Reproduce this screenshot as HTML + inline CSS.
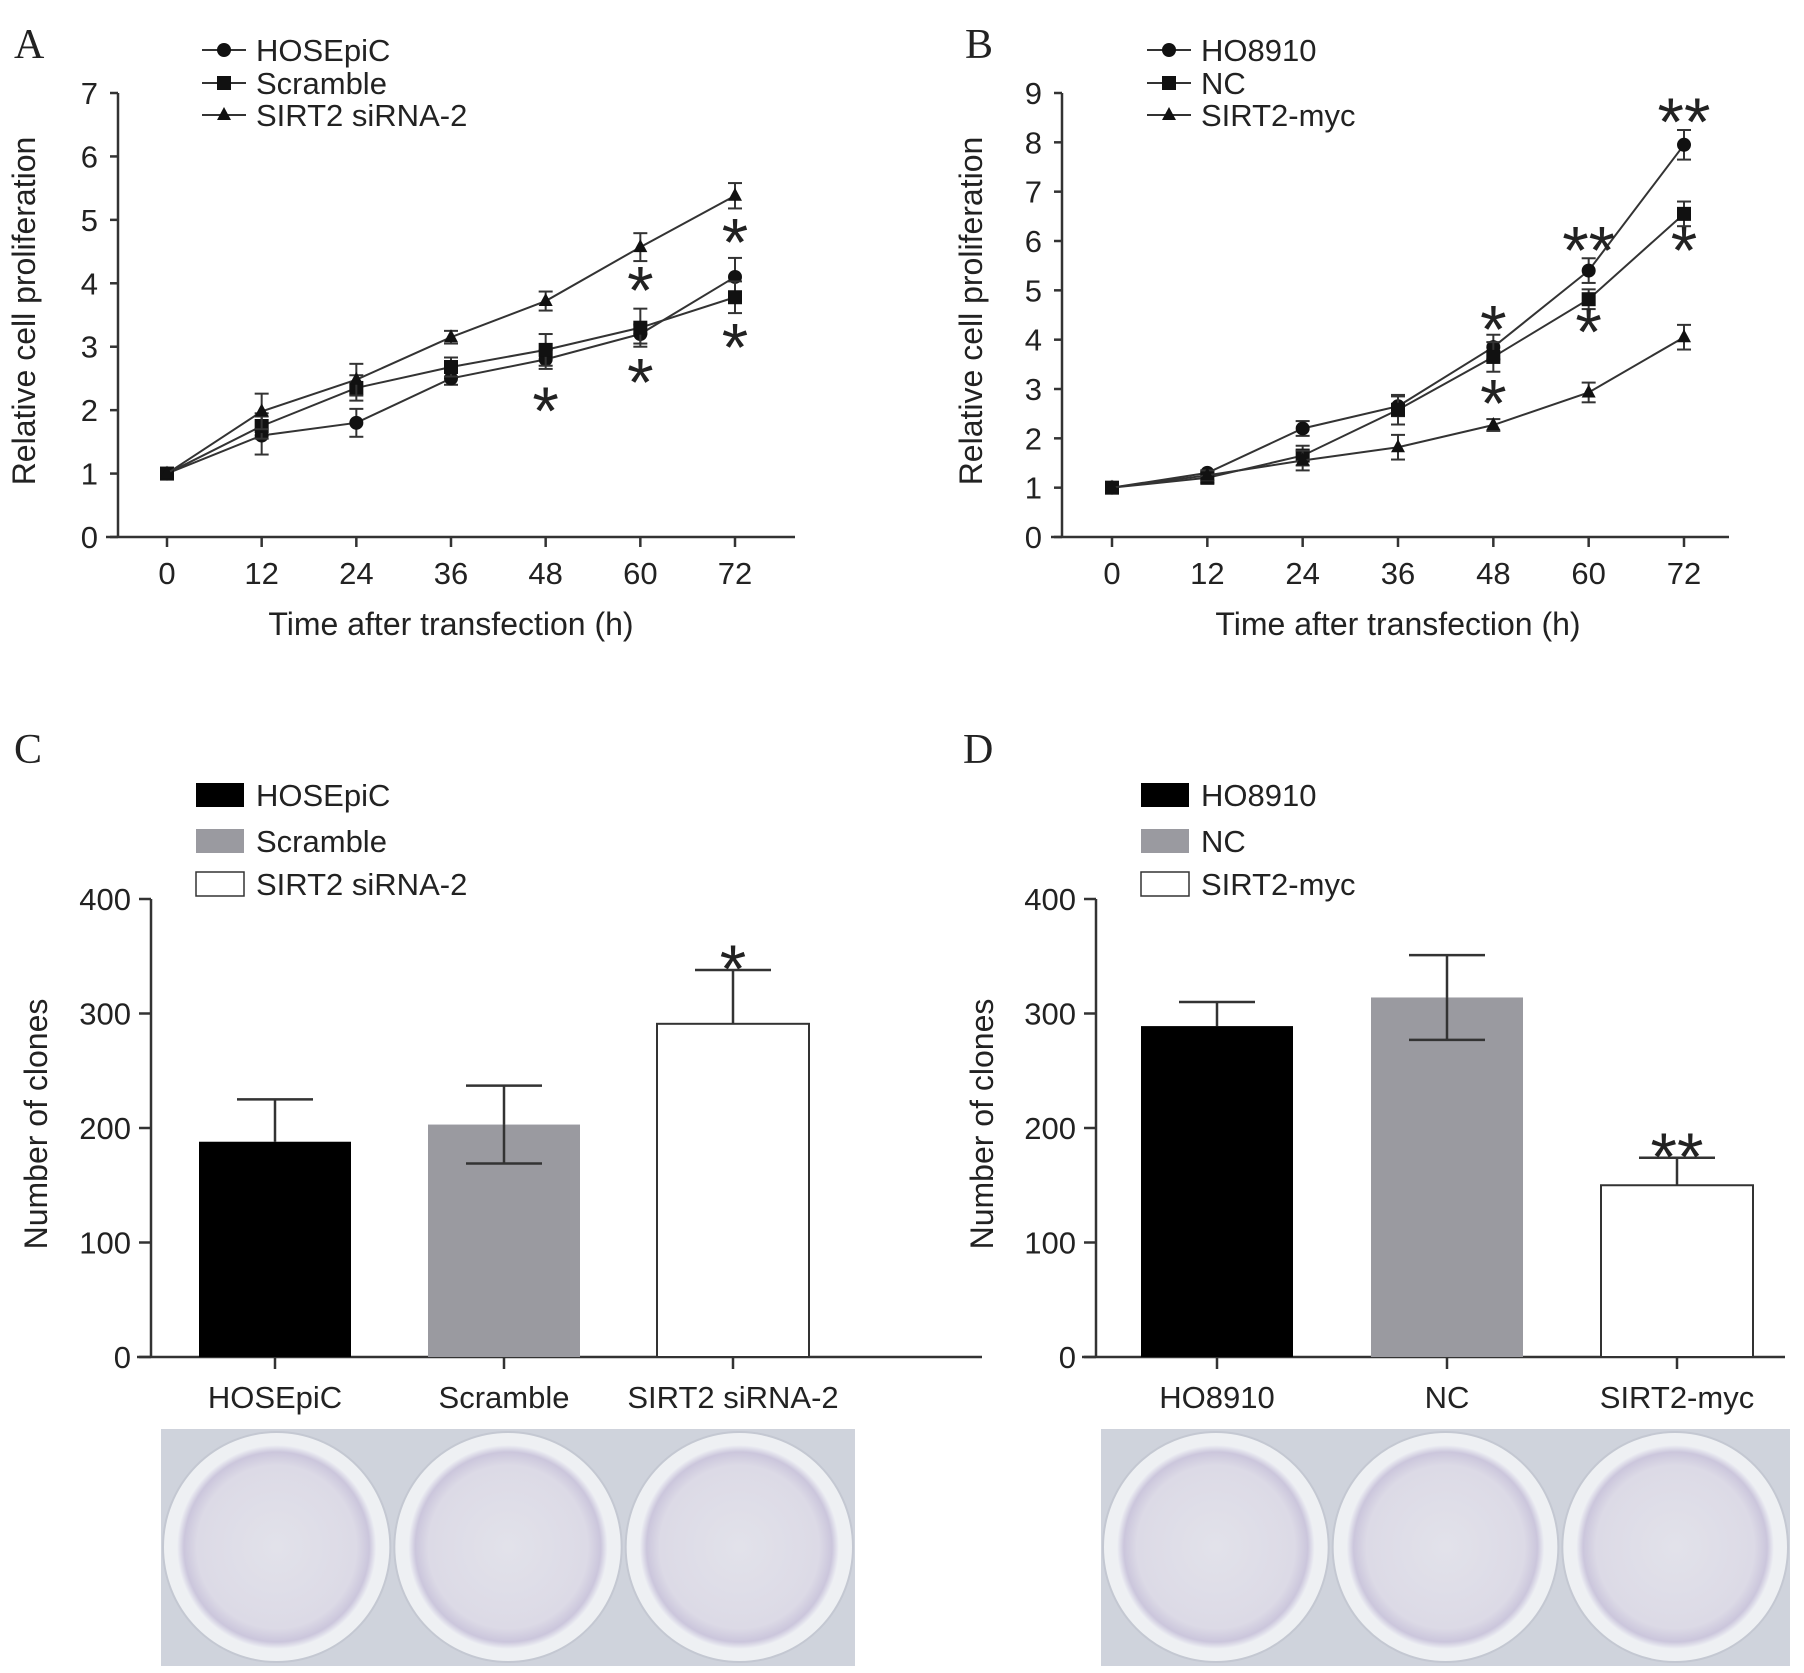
<!DOCTYPE html>
<html><head><meta charset="utf-8"><style>
html,body{margin:0;padding:0;background:#fff}
svg{display:block}
text{font-family:"Liberation Sans",Arial,sans-serif;fill:#222}
text.serif{font-family:"Liberation Serif",serif}
</style></head><body>
<svg id="s" width="1804" height="1673" viewBox="0 0 1804 1673" xmlns="http://www.w3.org/2000/svg">
<defs>
<radialGradient id="dish" cx="50%" cy="50%" r="50%">
<stop offset="0%" stop-color="#e2e2ea"/><stop offset="80%" stop-color="#dcdae6"/><stop offset="93%" stop-color="#cbc6dc"/><stop offset="100%" stop-color="#eef0f4"/>
</radialGradient>
</defs>
</svg>
<script>
const hours=[0,12,24,36,48,60,72];
const aNames=["HOSEpiC","Scramble","SIRT2 siRNA-2"];
const aHOSE=[1,1.6,1.8,2.5,2.8,3.2,4.1];
const aHOSEErr=[0,0.3,0.22,0.1,0.15,0.15,0.3];
const aScr=[1,1.75,2.35,2.68,2.95,3.3,3.78];
const aScrErr=[0,0.2,0.2,0.15,0.25,0.3,0.25];
const aSirt=[1,1.98,2.48,3.15,3.72,4.57,5.38];
const aSirtErr=[0,0.28,0.25,0.1,0.15,0.22,0.2];
const aYTicks=[0,1,2,3,4,5,6,7];
const aStars=[[48,2.1,"*"],[60,4.0,"*"],[60,2.55,"*"],[72,4.75,"*"],[72,3.1,"*"]];
const bNames=["HO8910","NC","SIRT2-myc"];
const bHO=[1,1.3,2.2,2.65,3.85,5.4,7.95];
const bHOErr=[0,0.05,0.15,0.2,0.25,0.25,0.3];
const bNC=[1,1.2,1.65,2.58,3.65,4.82,6.55];
const bNCErr=[0,0.1,0.2,0.3,0.3,0.2,0.25];
const bMyc=[1,1.25,1.55,1.82,2.27,2.93,4.05];
const bMycErr=[0,0.1,0.2,0.25,0.12,0.2,0.25];
const bYTicks=[0,1,2,3,4,5,6,7,8,9];
const bStars=[[48,4.35,"*"],[48,2.85,"*"],[60,5.95,"**"],[60,4.3,"*"],[72,8.55,"**"],[72,5.95,"*"]];
const cCats=["HOSEpiC","Scramble","SIRT2 siRNA-2"];
const cVals=[188,203,291];
const cErr=[37,34,47];
const dCats=["HO8910","NC","SIRT2-myc"];
const dVals=[289,314,150];
const dErr=[21,37,24];
const barTicks=[0,100,200,300,400];
const fills=["#000","#9a9aa0","#fff"];

const S=document.getElementById('s');
const NS="http://www.w3.org/2000/svg";
function el(t,a,p){const e=document.createElementNS(NS,t);for(const k in a)e.setAttribute(k,a[k]);(p||S).appendChild(e);return e;}
function txt(x,y,s,a,p){const e=el('text',Object.assign({x:x,y:y},a),p);e.textContent=s;return e;}
function marker(g,type,x,y){
 let m;
 if(type===0)m=el('circle',{cx:x,cy:y,r:7,fill:'#111'},g);
 else if(type===1)m=el('rect',{x:x-7,y:y-7,width:14,height:14,fill:'#111'},g);
 else m=el('polygon',{points:`${x},${y-8} ${x+7},${y+5} ${x-7},${y+5}`,fill:'#111'},g);
 return m;
}
function linePanel(o){
 const g=el('g',{});
 
 
 const X=h=>o.x0+(o.x1-o.x0)*h/72, Y=v=>o.y0-(o.y0-o.yT)*v/o.ymax;
 const L=txt(o.lx,58,o.letter,{'class':'serif','font-size':42,fill:'#111'},g);
 
 const ax=el('g',{stroke:'#333','stroke-width':2.5},g);
 
 
 el('line',{x1:o.ax,y1:o.yT,x2:o.ax,y2:o.y0},ax);
 el('line',{x1:o.axL,y1:o.y0,x2:o.axR,y2:o.y0},ax);
 o.ticks.forEach(t=>{el('line',{x1:o.ax-8,y1:Y(t),x2:o.ax,y2:Y(t)},ax);
  const l=txt(o.ax-20,Y(t)+11,t,{'font-size':31,'text-anchor':'end'},g);});
 hours.forEach(h=>{el('line',{x1:X(h),y1:o.y0,x2:X(h),y2:o.y0+10},ax);
  const l=txt(X(h),584,h,{'font-size':31,'text-anchor':'middle'},g);});
 const xt=txt((o.x0+o.x1)/2,635,'Time after transfection (h)',{'font-size':32,'text-anchor':'middle'},g);
 
 const yt=txt(0,0,'Relative cell proliferation',{'font-size':32,'text-anchor':'middle',transform:`translate(${o.ytx},311) rotate(-90)`},g);
 
 o.series.forEach((s,i)=>{
  const sg=el('g',{},g);
  
  
  el('polyline',{points:s.v.map((v,j)=>X(hours[j])+','+Y(v)).join(' '),fill:'none',stroke:'#333','stroke-width':2},sg);
  s.v.forEach((v,j)=>{const e=s.e[j];if(e>0){const x=X(hours[j]);
   el('line',{x1:x,y1:Y(v+e),x2:x,y2:Y(v-e),stroke:'#333','stroke-width':2},sg);
   el('line',{x1:x-7,y1:Y(v+e),x2:x+7,y2:Y(v+e),stroke:'#333','stroke-width':2},sg);
   el('line',{x1:x-7,y1:Y(v-e),x2:x+7,y2:Y(v-e),stroke:'#333','stroke-width':2},sg);}
   const m=marker(sg,i,X(hours[j]),Y(v));});
  const lg=el('g',{},g);
  
  
  const ly=o.legY[i];
  el('line',{x1:o.legX,y1:ly,x2:o.legX+44,y2:ly,stroke:'#333','stroke-width':2},lg);
  marker(lg,i,o.legX+22,ly);
  txt(o.legX+54,ly+11,o.names[i],{'font-size':31},lg);
 });
 o.stars.forEach(st=>{const t=txt(X(st[0]),Y(st[1])+30,st[2],{'font-size':68,'text-anchor':'middle',fill:'#111'},g);
  });
}
linePanel({name:'panel-a-line-chart',letter:'A',lx:14,x0:167,x1:735,y0:537,yT:93,ymax:7,ax:118,axL:106,axR:795,ticks:aYTicks,ytx:35,
 names:aNames,series:[{v:aHOSE,e:aHOSEErr},{v:aScr,e:aScrErr},{v:aSirt,e:aSirtErr}],legX:202,legY:[50,83,115],stars:aStars});
linePanel({name:'panel-b-line-chart',letter:'B',lx:965,x0:1112,x1:1684,y0:537,yT:93,ymax:9,ax:1062,axL:1051,axR:1729,ticks:bYTicks,ytx:982,
 names:bNames,series:[{v:bHO,e:bHOErr},{v:bNC,e:bNCErr},{v:bMyc,e:bMycErr}],legX:1147,legY:[50,83,115],stars:bStars});

function barPanel(o){
 const g=el('g',{});
 
 
 const y0=1357,yT=899,Y=v=>y0-(y0-yT)*v/400;
 const L=txt(o.lx,763,o.letter,{'class':'serif','font-size':42,fill:'#111'},g);
 
 const ax=el('g',{stroke:'#333','stroke-width':2.5},g);
 
 
 el('line',{x1:o.ax,y1:yT,x2:o.ax,y2:y0},ax);
 el('line',{x1:o.ax-14,y1:y0,x2:o.axR,y2:y0},ax);
 barTicks.forEach(t=>{el('line',{x1:o.ax-12,y1:Y(t),x2:o.ax,y2:Y(t)},ax);
  const l=txt(o.ax-20,Y(t)+11,t,{'font-size':31,'text-anchor':'end'},g);});
 const yt=txt(0,0,'Number of clones',{'font-size':32,'text-anchor':'middle',transform:`translate(${o.ytx},1124) rotate(-90)`},g);
 
 const bw=152;
 o.vals.forEach((v,i)=>{
  const cx=o.b0+i*o.bstep;
  el('line',{x1:cx,y1:y0,x2:cx,y2:y0+12,stroke:'#333','stroke-width':2.5},ax);
  const l=txt(cx,1408,o.cats[i],{'font-size':31,'text-anchor':'middle'},g);
  const e=o.err[i];
  const lo=(i===1)?v-e:v;
  el('line',{x1:cx,y1:Y(v+e),x2:cx,y2:Y(lo),stroke:'#333','stroke-width':2.5},g);
  el('line',{x1:cx-38,y1:Y(v+e),x2:cx+38,y2:Y(v+e),stroke:'#333','stroke-width':2.5},g);
  const b=el('rect',{x:cx-bw/2,y:Y(v),width:bw,height:y0-Y(v),fill:fills[i],stroke:i===2?'#333':'none','stroke-width':2},g);
  
  
  if(i===1){el('line',{x1:cx,y1:Y(v),x2:cx,y2:Y(v-e),stroke:'#333','stroke-width':2.5},g);
   el('line',{x1:cx-38,y1:Y(v-e),x2:cx+38,y2:Y(v-e),stroke:'#333','stroke-width':2.5},g);}
  if(i===2){const st=txt(cx,Y(v+e)+22,o.star,{'font-size':68,'text-anchor':'middle',fill:'#111'},g);
   }
  const lg=el('g',{},g);
  
  
  const ly=[795,841,884][i];
  el('rect',{x:o.legX,y:ly-12,width:48,height:24,fill:fills[i],stroke:i===2?'#333':'none','stroke-width':1.5},lg);
  txt(o.legX+60,ly+11,o.cats[i],{'font-size':31},lg);
 });
 const pg=el('g',{},g);
 
 
 el('rect',{x:o.px,y:1429,width:o.pw,height:237,fill:'#cfd3dc'},pg);
 const dw=o.pw/3;
 for(let k=0;k<3;k++){
  el('ellipse',{cx:o.px+dw*(k+0.5),cy:1547,rx:dw/2-2,ry:115,fill:'#eef0f3',stroke:'#c4c8d2','stroke-width':2},pg);
  el('ellipse',{cx:o.px+dw*(k+0.5),cy:1547,rx:dw/2-16,ry:102,fill:'url(#dish)'},pg);
 }
}
barPanel({name:'panel-c-bar-chart',letter:'C',lx:14,ax:151,axR:982,b0:275,bstep:229,ytx:47,vals:cVals,err:cErr,cats:cCats,star:'*',legX:196,px:161,pw:694});
barPanel({name:'panel-d-bar-chart',letter:'D',lx:963,ax:1096,axR:1785,b0:1217,bstep:230,ytx:993,vals:dVals,err:dErr,cats:dCats,star:'**',legX:1141,px:1101,pw:689});
</script>
</body></html>
